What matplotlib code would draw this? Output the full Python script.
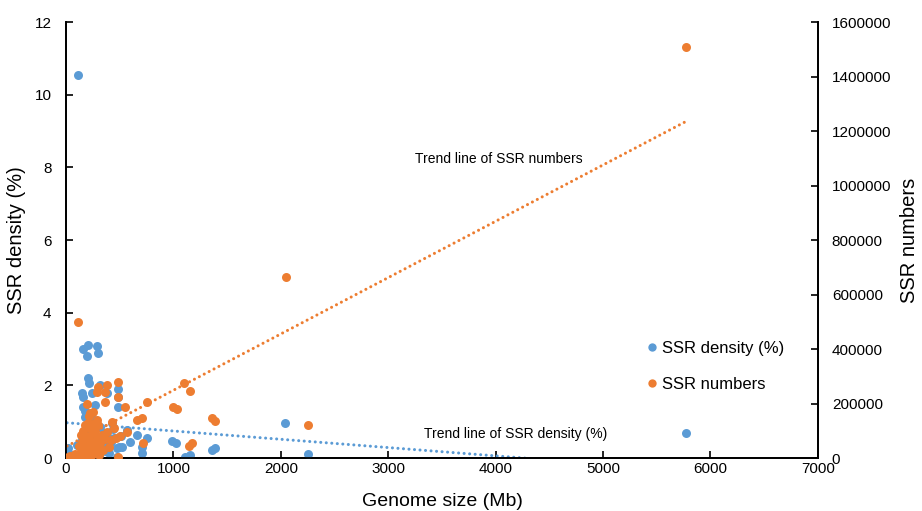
import matplotlib
matplotlib.use("Agg")
import matplotlib.pyplot as plt
from matplotlib.lines import Line2D

plt.rcParams["font.family"] = ["Liberation Sans", "DejaVu Sans"]

BLUE = "#5B9BD5"
ORANGE = "#ED7D31"

# SSR density (%) per genome
dens_size = [112, 5773, 2039, 2256, 984, 1024, 1108, 1155, 1357, 1387,
             155, 208, 286, 199, 301, 208, 214, 146, 161, 239, 317, 379,
             487, 487, 487, 161, 270, 177, 208, 425, 565, 658, 751, 596,
             518, 472, 705, 710, 6, 100, 347, 472, 15, 30, 60,
             180, 230, 260, 290, 320, 350, 380, 200, 240, 270, 300, 330,
             360, 400, 420, 450, 150, 170, 250, 280, 310, 390, 440, 510, 496]
density = [10.54, 0.70, 0.97, 0.10, 0.47, 0.40, 0.02, 0.08, 0.22, 0.27,
           2.99, 3.11, 3.09, 2.81, 2.90, 2.19, 2.07, 1.80, 1.69, 1.78, 2.01, 1.78,
           1.89, 1.69, 1.40, 1.41, 1.46, 1.14, 0.96, 0.96, 0.77, 0.63, 0.54, 0.45,
           0.31, 0.27, 0.31, 0.15, 0.22, 0.36, 0.22, 0.04, 0.28, 0.12, 0.05,
           1.30, 1.20, 1.05, 0.90, 0.85, 0.70, 0.60, 0.75, 0.65, 0.50, 0.40, 0.30,
           0.20, 0.15, 0.45, 0.55, 0.50, 0.20, 0.10, 0.25, 0.05, 0.35, 0.80, 0.60, 0.31]

# SSR numbers per genome
num_size = [5770, 2045, 2256, 1101, 1155, 999, 1030, 1357, 1387, 1170, 1148,
            115, 301, 379, 363, 286, 487, 487, 363, 549, 751, 199, 223, 254,
            208, 425, 658, 705, 720, 503, 565, 21, 100, 487,
            130, 150, 160, 170, 180, 190, 200, 210, 220, 230, 240, 250, 260,
            270, 280, 290, 300, 310, 320, 335, 150, 175, 225, 265, 195, 245,
            285, 215, 340, 360, 380, 400, 420, 450, 470, 60, 40, 80, 120, 140]
numbers = [1510000, 665000, 121000, 277000, 246000, 188000, 180000, 146000, 137000,
           56000, 44000, 498000, 262000, 268000, 243000, 243000, 280000, 225000,
           206000, 188000, 207000, 200000, 164000, 169000, 127000, 133000, 139000,
           146000, 54000, 79000, 96000, 3000, 11000, 5000,
           20000, 60000, 100000, 40000, 120000, 80000, 30000, 70000, 110000, 50000,
           90000, 15000, 60000, 100000, 35000, 75000, 120000, 10000, 55000, 85000,
           5000, 8000, 2000, 25000, 45000, 125000, 140000, 155000, 30000, 70000,
           95000, 40000, 65000, 110000, 75000, 4000, 8000, 15000, 45000, 85000]

# linear trend lines (end points)
trend_x = [10, 5770]
trend_density = [0.97, -0.345]
trend_numbers = [44000, 1235000]

fig = plt.figure(figsize=(9.22, 5.11), dpi=100)
ax = fig.add_axes([0.0716, 0.1037, 0.8155, 0.853])
ax2 = ax.twinx()

dots = (0, (0.01, 1.8))
ax.scatter(dens_size, density, s=42, color=BLUE, zorder=3, linewidths=0)
ax.plot(trend_x, trend_density, color=BLUE, lw=2.2, ls=dots,
        dash_capstyle="round", zorder=2)
ax2.scatter(num_size, numbers, s=42, color=ORANGE, zorder=3, linewidths=0)
ax2.plot(trend_x, trend_numbers, color=ORANGE, lw=2.2, ls=dots,
         dash_capstyle="round", zorder=2)

ax.set_xlim(0, 7000)
ax.set_ylim(0, 12)
ax2.set_ylim(0, 1600000)
ax.set_xticks(range(0, 7001, 1000))
ax.set_yticks(range(0, 13, 2))
ax2.set_yticks(range(0, 1600001, 200000))
ax2.yaxis.set_major_formatter(matplotlib.ticker.FuncFormatter(lambda v, p: f"{int(v)}"))

for a in (ax, ax2):
    a.spines["top"].set_visible(False)
    for s in a.spines.values():
        s.set_linewidth(1.3)
    a.tick_params(direction="in", length=5, width=1.2, labelsize=11)
ax.tick_params(axis="y", pad=10.5)
ax.tick_params(axis="x", pad=3)
ax2.tick_params(pad=10)

ax.set_xlabel("Genome size (Mb)", fontsize=14, labelpad=12)
ax.set_ylabel("SSR density (%)", fontsize=14.5, labelpad=6)
ax2.set_ylabel("SSR numbers", fontsize=14.5, labelpad=6)

ax.text(0.575, 0.685, "Trend line of SSR numbers", transform=ax.transAxes,
        fontsize=10, ha="center", va="center")
ax.text(0.598, 0.056, "Trend line of SSR density (%)", transform=ax.transAxes,
        fontsize=10, ha="center", va="center")

handles = [Line2D([], [], ls="", marker="o", ms=6, color=BLUE, mec="none"),
           Line2D([], [], ls="", marker="o", ms=6, color=ORANGE, mec="none")]
ax2.legend(handles, ["SSR density (%)", "SSR numbers"], loc="center left",
           bbox_to_anchor=(0.748, 0.21), frameon=False, fontsize=12,
           handletextpad=0.1, handlelength=1.0, labelspacing=1.3)

fig.savefig("out.png", dpi=100)
